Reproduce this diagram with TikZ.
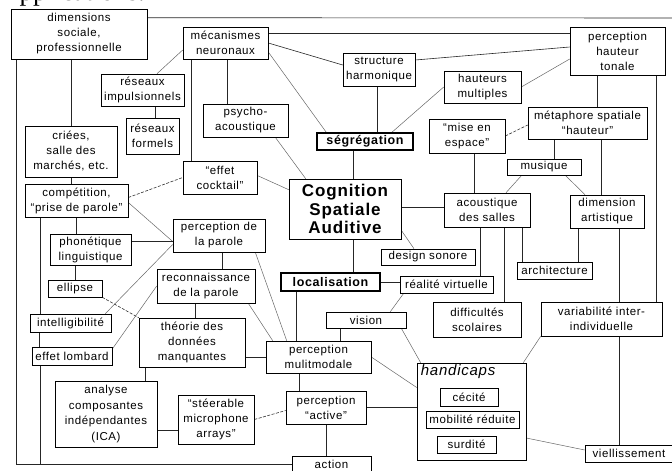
\documentclass[tikz,border=0pt]{standalone}
\usepackage{fontspec}
\setmainfont[LetterSpace=5]{Liberation Sans}
\newfontfamily\serifpage{Liberation Serif}
\pgfdeclarelayer{liens}
\pgfsetlayers{liens, main}
\tikzstyle{boite}=[draw=black,line width=0.6pt,fill=white,inner sep=0pt,align=center,font=\fontsize{11.5}{15}\selectfont]
\tikzstyle{gras}=[boite,line width=1.6pt,font=\bfseries\fontsize{12.5}{15}\selectfont]
\tikzstyle{lien}=[draw=black!85,line width=0.6pt]
\tikzstyle{fin}=[draw=black!60,line width=0.5pt]
\tikzstyle{tiret}=[draw=black!80,line width=0.6pt,dash pattern=on 3pt off 1.5pt]
\tikzset{taille/.style 2 args={minimum width=#1,minimum height=#2}}

\begin{document}
\begin{tikzpicture}[x=1pt,y=-1pt]
		\useasboundingbox (0,0) rectangle (672,471);
		\begin{scope}
			\clip (0,0) rectangle (672,471);
			\node[anchor=base west,inner sep=0pt,font=\serifpage\fontsize{27}{27}\selectfont] (titre) at (0,1) {Applications.};
		\end{scope}
		% boites
		\node[boite,taille={136}{50}] (dim) at (79,34) {dimensions\\sociale,\\professionnelle};
		\node[boite,taille={85}{32}] (meca) at (225.5,43) {mécanismes\\neuronaux};
		\node[boite,taille={83}{32}] (rimp) at (142.5,90) {réseaux\\impulsionnels};
		\node[boite,taille={53}{36}] (rfor) at (152.5,136) {réseaux\\formels};
		\node[boite,taille={92}{51}] (crie) at (71,151.5) {criées,\\salle des\\marchés, etc.};
		\node[boite,taille={85}{33}] (psy) at (245.5,120.5) {psycho-\\acoustique};
		\node[boite,taille={72}{33}] (struc) at (379,69.5) {structure\\harmonique};
		\node[gras,taille={96}{17}] (seg) at (365,141.5) {ségrégation};
		\node[boite,taille={77}{32}] (hmul) at (482.5,87) {hauteurs\\multiples};
		\node[boite,taille={95}{48}] (pht) at (617.5,51) {perception\\hauteur\\tonale};
		\node[boite,taille={119}{32}] (meta) at (587.5,123) {métaphore spatiale\\“hauteur”};
		\node[boite,taille={76}{34}] (mise) at (467,136) {“mise en\\espace”};
		\node[boite,taille={74}{16}] (mus) at (544,167) {musique};
		\node[boite,taille={86}{34}] (acou) at (487,210) {acoustique\\des salles};
		\node[boite,taille={74}{33}] (dart) at (607,211.5) {dimension\\artistique};
		\node[boite,taille={75}{17}] (arch) at (554.5,270.5) {architecture};
		\node[boite,taille={74}{33}] (cocl) at (220,177.5) {“effet\\cocktail”};
		\node[boite,taille={103}{33}] (comp) at (76.5,200.5) {compétition,\\“prise de parole”};
		\node[boite,taille={112}{60},font=\bfseries\fontsize{17}{18.5}\selectfont] (csa) at (345,209) {Cognition\\Spatiale\\Auditive};
		\node[boite,taille={92}{33}] (ppar) at (219,235.5) {perception de\\la parole};
		\node[boite,taille={81}{31}] (phon) at (90.5,249.5) {phonétique\\linguistique};
		\node[boite,taille={54}{17}] (elli) at (75,288.5) {ellipse};
		\node[boite,taille={98}{34}] (reco) at (206,286) {reconnaissance\\de la parole};
		\node[gras,taille={99}{18}] (loca) at (330.5,282) {localisation};
		\node[boite,taille={94}{16}] (dson) at (428,257) {design sonore};
		\node[boite,taille={93}{17}] (rvir) at (446.5,284.5) {réalité virtuelle};
		\node[boite,taille={81}{18}] (intel) at (70.5,323) {intelligibilité};
		\node[boite,taille={106}{49}] (theo) at (192,342.5) {théorie des\\données\\manquantes};
		\node[boite,taille={80}{16}] (vis) at (366,320) {vision};
		\node[boite,taille={88}{35}] (diff) at (477,319.5) {difficultés\\scolaires};
		\node[boite,taille={121}{34}] (vari) at (601.5,319) {variabilité inter-\\individuelle};
		\node[boite,taille={80}{18}] (lomb) at (72,356) {effet lombard};
		\node[boite,taille={105}{32}] (pmul) at (318.5,357) {perception\\mulitmodale};
		\node[boite,taille={102}{66},font=\fontsize{11.5}{15.5}\selectfont] (anal) at (106,414) {analyse\\composantes\\indépendantes\\(ICA)};
		\node[boite,taille={76}{49}] (stee) at (216,419.5) {“stéerable\\microphone\\arrays”};
		\node[boite,taille={80}{33}] (pact) at (326,407.5) {perception\\“active”};
		\node[boite,taille={79}{16}] (acti) at (331.5,464) {action};
		\node[boite,taille={109}{97},label={[anchor=north west,inner sep=2pt,xshift=2pt,font=\itshape\fontsize{15}{15}\selectfont]north west:handicaps}] (hand) at (471.5,411.5) {};
		\node[boite,taille={58}{18}] (ceci) at (469,397) {cécité};
		\node[boite,taille={93}{17}] (mobi) at (472.5,419.5) {mobilité réduite};
		\node[boite,taille={59}{17}] (surd) at (466.5,444.5) {surdité};
		\node[boite,taille={88}{17}] (viel) at (629,453.5) {viellissement};
		\coordinate (bordD) at (672,18);
		% liens
		\begin{pgfonlayer}{liens}
			\draw[lien] ([yshift=-9pt]dim.north east) -- (bordD);
			\draw[lien] ([xshift=6pt]dim.south west) |- (acti.west);
			\draw[lien] (crie.north) -- (crie.north |- dim.south);
			\draw[lien] (crie.south) -- (crie.south |- comp.north);
			\draw[lien] ([xshift=16pt]comp.south west) -- ([xshift=16pt]comp.south west |- intel.north);
			\draw[lien] ([xshift=10pt]intel.south west) -- ([xshift=10pt]intel.south west |- lomb.north);
			\draw[lien] ([xshift=9pt]lomb.south west) -- ([xshift=9pt]lomb.south west |- acti.west);
			\draw[lien] (comp.south) -- (comp.south |- phon.north);
			\draw[lien] (elli.north) -- (elli.north |- phon.south);
			\draw[tiret] ([yshift=3pt]comp.east) -- (cocl.west);
			\draw[fin] ([yshift=-2pt]comp.east) -- ([yshift=-6pt]ppar.west);
			\draw[lien] ([yshift=-6pt]ppar.west) -- ([yshift=-6pt]ppar.west -| phon.east);
			\draw[fin] ([xshift=-6pt]intel.north east) -- ([yshift=-9pt]ppar.west);
			\draw[fin] ([yshift=7pt]lomb.east) -- (reco.west);
			\draw[tiret] (elli.south east) -- (theo.north west);
			\draw[lien] ([xshift=3pt]ppar.south) -- ([xshift=3pt]ppar.south |- reco.north);
			\draw[lien] ([xshift=-11pt]reco.south) -- ([xshift=-11pt]reco.south |- theo.north);
			\draw[lien] ([xshift=7pt]theo.south west) -- ([xshift=7pt]theo.south west |- anal.north);
			\draw[lien] (pmul.west) -- (pmul.west -| theo.east);
			\draw[lien] ([yshift=-16pt]anal.east) -- ([yshift=-16pt]anal.east -| stee.west);
			\draw[tiret] (stee.east) -- ([yshift=-3pt]pact.west);
			\draw[fin] ([xshift=-10pt]ppar.south east) -- ([xshift=21pt]pmul.north west);
			\draw[fin] ([xshift=-7pt]reco.south east) -- ([xshift=7pt]pmul.north west);
			\draw[lien] ([xshift=16pt]loca.south west) -- ([xshift=16pt]loca.south west |- pmul.north);
			\draw[lien] ([xshift=15pt]vis.south west) -- ([xshift=15pt]vis.south west |- pmul.north);
			\draw[lien] ([xshift=-19.5pt]pmul.south) -- ([xshift=-19.5pt]pmul.south |- pact.north);
			\draw[lien] (pact.south) -- (pact.south |- acti.north);
			\draw[lien] (pact.east) -- (pact.east -| hand.west);
			\draw[fin] (pmul.east) -- ([yshift=24pt]hand.west);
			\draw[fin] ([xshift=-5pt]vis.south east) -- ([xshift=4pt]hand.north west);
			\draw[fin] ([xshift=4pt]rvir.south west) -- ([xshift=-16pt]vis.north east);
			\draw[lien] (loca.east) -- (loca.east -| rvir.west);
			\draw[lien] ([xshift=8pt]csa.south) -- ([xshift=8pt]csa.south |- loca.north);
			\draw[lien] ([xshift=8pt]csa.north) -- ([xshift=8pt]csa.north |- seg.south);
			\draw[lien] ([yshift=2pt]csa.east) -- ([yshift=2pt]csa.east -| acou.west);
			\draw[fin] ([yshift=9pt]csa.south east) -- ([xshift=-14pt]dson.north);
			\draw[fin] ([yshift=2pt]cocl.east) -- ([yshift=-11pt]csa.north west);
			\draw[fin] ([xshift=-13pt]psy.south east) -- ([xshift=17pt]csa.north west);
			\draw[lien] ([xshift=1.5pt]meca.south) -- ([xshift=1.5pt]meca.south |- psy.north);
			\draw[lien] ([xshift=9pt]meca.south west) -- ([xshift=9pt]meca.south west |- cocl.north);
			\draw[fin] ([yshift=-7pt]meca.west) -- ([xshift=14.5pt]rimp.north);
			\draw[lien] ([xshift=2.5pt]rfor.north) -- ([xshift=2.5pt]rfor.north |- rimp.south);
			\draw[lien] ([yshift=10pt]meca.east) -- ([yshift=10pt]meca.east -| pht.west);
			\draw[lien] (meca.east) -- ([yshift=4.5pt]struc.west);
			\draw[fin] ([yshift=-9pt]meca.east) -- ([xshift=10pt]seg.north west);
			\draw[lien] ([xshift=-2pt]struc.south) -- ([xshift=-2pt]struc.south |- seg.north);
			\draw[lien] ([yshift=9.5pt]struc.east) -- ([yshift=4pt]pht.west);
			\draw[fin] ([xshift=27pt]seg.north) -- (hmul.west);
			\draw[fin] (hmul.east) -- ([yshift=-8pt]pht.west);
			\draw[lien] ([xshift=-20.5pt]pht.south) -- ([xshift=-20.5pt]pht.south |- meta.north);
			\draw[lien] ([xshift=-9pt]pht.south east) -- ([xshift=-9pt]pht.south east |- vari.north);
			\draw[tiret] (mise.east) -- ([yshift=-2pt]meta.west);
			\draw[lien] ([xshift=7pt]mise.south) -- ([xshift=7pt]mise.south |- acou.north);
			\draw[lien] ([xshift=10pt]mus.north) -- ([xshift=10pt]mus.north |- meta.south);
			\draw[lien] ([xshift=-6pt]dart.north) -- ([xshift=-6pt]dart.north |- meta.south);
			\draw[fin] ([xshift=15pt]mus.south west) -- ([xshift=19pt]acou.north);
			\draw[fin] ([xshift=-16pt]mus.south east) -- ([xshift=-22pt]dart.north);
			\draw[lien] ([xshift=-7pt]acou.south) -- ([xshift=-7pt]acou.south |- rvir.north);
			\draw[lien] ([xshift=17pt]acou.south) -- ([xshift=17pt]acou.south |- diff.north);
			\draw[lien] ([xshift=6pt]arch.north west) -- ([xshift=6pt]arch.north west |- acou.south);
			\draw[lien] ([xshift=9pt]dart.south west) -- ([xshift=9pt]dart.south west |- arch.north);
			\draw[lien] ([xshift=12pt]dart.south) -- ([xshift=12pt]dart.south |- vari.north);
			\draw[lien] ([xshift=17.5pt]vari.south) -- ([xshift=17.5pt]vari.south |- viel.north);
			\draw[fin] (vari.south west) -- ([xshift=-3pt]hand.north east);
			\draw[fin] ([yshift=-26.5pt]hand.east) -- ([yshift=3.5pt]viel.west);
		\end{pgfonlayer}
	\end{tikzpicture}
\end{document}
